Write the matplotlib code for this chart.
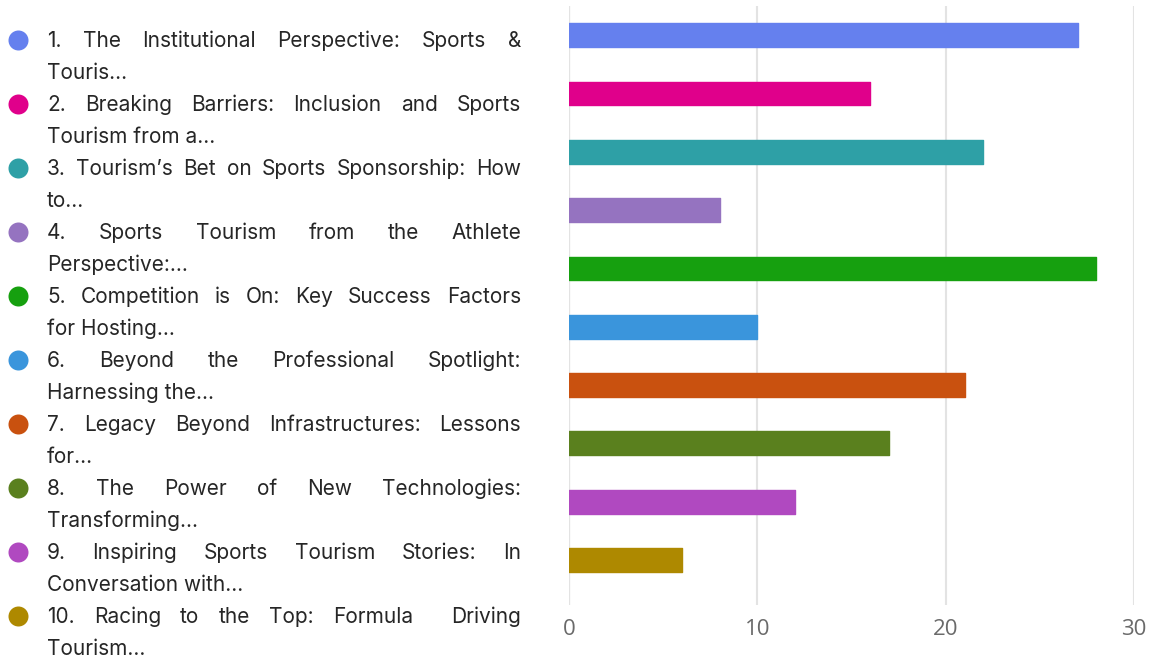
import matplotlib
matplotlib.use("Agg")
import matplotlib.pyplot as plt
from matplotlib.patches import Circle

# Data
values = [27, 16, 22, 8, 28, 10, 21, 17, 12, 6]
labels = [
    ["1. The Institutional Perspective: Sports &", "Touris..."],
    ["2. Breaking Barriers: Inclusion and Sports", "Tourism from a..."],
    ["3. Tourism\u2019s Bet on Sports Sponsorship: How", "to..."],
    ["4. Sports Tourism from the Athlete", "Perspective:..."],
    ["5. Competition is On: Key Success Factors", "for Hosting..."],
    ["6. Beyond the Professional Spotlight:", "Harnessing the..."],
    ["7. Legacy Beyond Infrastructures: Lessons", "for..."],
    ["8. The Power of New Technologies:", "Transforming..."],
    ["9. Inspiring Sports Tourism Stories: In", "Conversation with..."],
    ["10. Racing to the Top: Formula  Driving", "Tourism..."],
]
colors = ["#6580ee", "#e0008b", "#2ea0a6", "#9573c0", "#16a00f",
          "#3a95dc", "#c9510f", "#5a801e", "#b049c0", "#ae8900"]
xticks = [0, 10, 20, 30]

W, H = 1158, 659
fig = plt.figure(figsize=(W / 100, H / 100), dpi=100)

# Bar chart
ax = fig.add_axes([569 / W, 1 - 605 / H, (1134 - 569) / W, (605 - 6) / H])
ypos = list(range(len(values)))
ax.barh(ypos, values, height=0.41, color=colors, edgecolor=colors,
        linewidth=1.0, joinstyle="round", zorder=3)
ax.set_xlim(0, 30)
ax.set_ylim(9.77, -0.5)
ax.set_xticks(xticks)
ax.set_yticks([])
ax.grid(axis="x", color="#e3e3e3", linewidth=1.5, zorder=0)
ax.axvline(0, color="#cfcfcf", linewidth=1.5, zorder=1)
for s in ax.spines.values():
    s.set_visible(False)
ax.tick_params(axis="x", length=0, pad=10, labelsize=16, labelcolor="#6a6a6a")
for t in ax.get_xticklabels():
    t.set_fontfamily("Open Sans")

# Legend drawn in pixel coordinates with justified text
lax = fig.add_axes([0, 0, 1, 1], zorder=-1)
lax.set_xlim(0, W)
lax.set_ylim(H, 0)
lax.axis("off")

renderer = fig.canvas.get_renderer()
x0, x1 = 47, 521
fs = 15
font = "Inter"
tcolor = "#262626"
for i, (lines, c) in enumerate(zip(labels, colors)):
    yc = 40.5 + 64 * i
    lax.add_patch(Circle((18.5, yc), 10, color=c, lw=0))
    for j, line in enumerate(lines):
        base = 47 + 64 * i + 32 * j
        if j < len(lines) - 1:
            # justify the line: spread the words between x0 and x1
            words = line.split(" ")
            texts = [lax.text(0, base, w, fontsize=fs, family=font, color=tcolor,
                              va="baseline", ha="left") for w in words]
            widths = []
            for t in texts:
                if t.get_text():
                    widths.append(t.get_window_extent(renderer).width)
                else:
                    widths.append(0)
            gap = (x1 - x0 - sum(widths)) / (len(words) - 1)
            x = x0
            for t, w in zip(texts, widths):
                t.set_x(x)
                x += w + gap
        else:
            lax.text(x0, base, line, fontsize=fs, family=font, color=tcolor,
                     va="baseline", ha="left")

fig.savefig("out.png", dpi=100, facecolor="white")
